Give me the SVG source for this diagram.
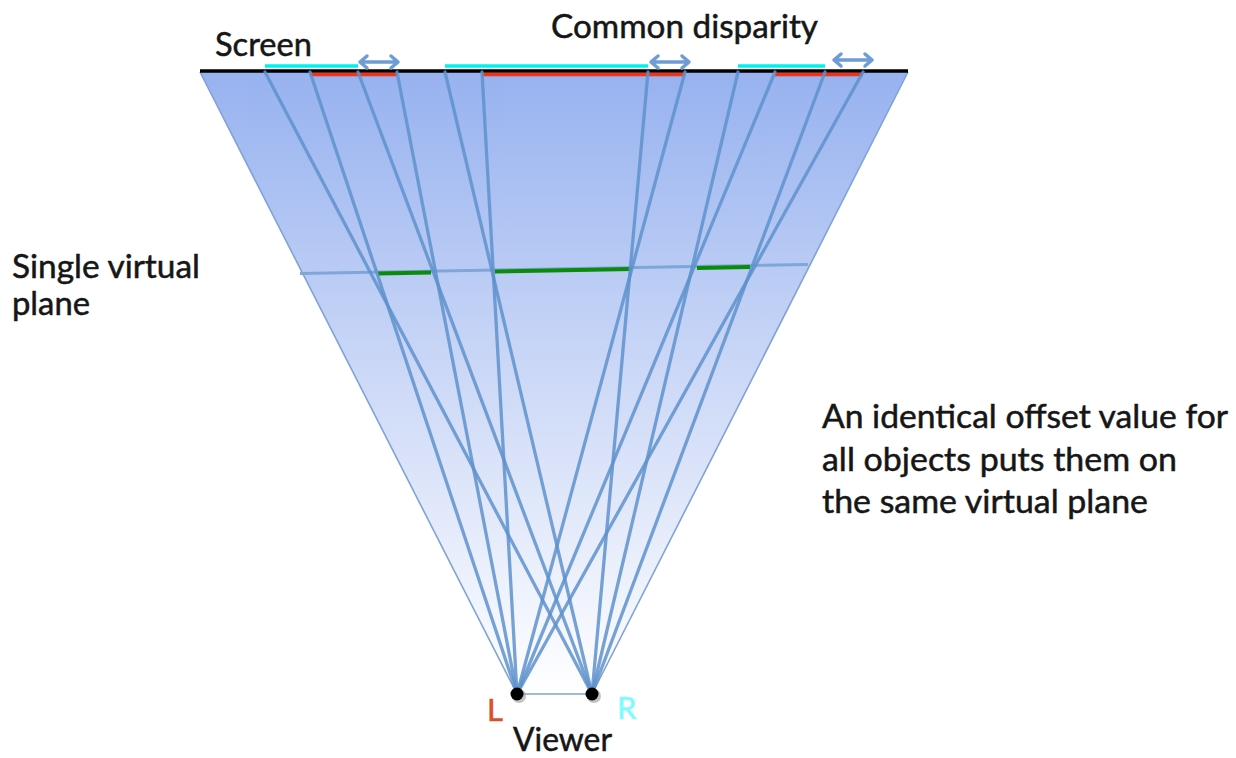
<svg xmlns="http://www.w3.org/2000/svg" width="1236" height="758" viewBox="0 0 1236 758">
  <defs>
    <linearGradient id="frustumFill" x1="0" y1="72" x2="0" y2="694" gradientUnits="userSpaceOnUse">
      <stop offset="0" stop-color="#97B2F0"/>
      <stop offset="0.5" stop-color="#CDD9F7"/>
      <stop offset="1" stop-color="#FFFFFF"/>
    </linearGradient>
    <style>
      .label { font-family: Lato, "Open Sans", "Liberation Sans", sans-serif; font-size: 32px; fill: #161616; stroke: #161616; stroke-width: 0.5; }
      .eye-label { font-family: Lato, "Open Sans", sans-serif; font-size: 31px; stroke-width: 0.6; }
      .ray { stroke: #5E92CC; stroke-width: 3.3; stroke-opacity: 0.85; fill: none; stroke-linecap: round; }
      .edge { stroke: #7FA3D6; stroke-width: 1.6; fill: none; }
      .cyan { stroke: #00F0F0; stroke-width: 3.5; }
      .red { stroke: #F0341A; stroke-width: 3.5; }
      .green { stroke: #0A8C0A; stroke-width: 4; }
      .disp { stroke: #6D9DD4; stroke-width: 3.5; fill: none; stroke-linecap: round; stroke-linejoin: round; }
    </style>
  </defs>

  <!-- viewing frustum from the two eyes up to the screen -->
  <g id="frustum">
    <polygon points="200,72 908,72 592,694 517,694" fill="url(#frustumFill)"/>
    <line class="edge" x1="200" y1="72" x2="517" y2="694"/>
    <line class="edge" x1="908" y1="72" x2="592" y2="694"/>
    <line class="edge" x1="517" y1="694" x2="592" y2="694"/>
  </g>

  <!-- screen with left (red) and right (cyan) images -->
  <g id="screen">
    <line x1="265" y1="66" x2="358" y2="66" class="cyan"/>
    <line x1="445" y1="66" x2="648" y2="66" class="cyan"/>
    <line x1="738" y1="66" x2="825" y2="66" class="cyan"/>
    <line x1="200" y1="71" x2="908" y2="71" stroke="#000" stroke-width="3.5"/>
    <line x1="310" y1="74.5" x2="397" y2="74.5" class="red"/>
    <line x1="482" y1="74.5" x2="685" y2="74.5" class="red"/>
    <line x1="775" y1="74.5" x2="863" y2="74.5" class="red"/>
  </g>

  <!-- disparity arrows -->
  <g id="disparity-arrows">
    <path class="disp" d="M360,62 H398 M367,56 L360,62 L367,68 M391,56 L398,62 L391,68"/>
    <path class="disp" d="M651,62 H689 M658,56 L651,62 L658,68 M682,56 L689,62 L682,68"/>
    <path class="disp" d="M834,60 H872 M841,54 L834,60 L841,66 M865,54 L872,60 L865,66"/>
  </g>

  <!-- virtual plane -->
  <g id="virtual-plane">
    <line x1="300" y1="273.4" x2="808" y2="264.5" stroke="#7EA6D8" stroke-width="3"/>
    <line class="green" x1="378" y1="273.5" x2="431" y2="272.6"/>
    <line class="green" x1="495" y1="271.5" x2="632" y2="269.1"/>
    <line class="green" x1="697" y1="268" x2="750" y2="267"/>
  </g>

  <!-- sight lines -->
  <g id="connectors">
    <!-- left eye to red image edges -->
    <line class="ray" x1="517" y1="694" x2="310" y2="72"/>
    <line class="ray" x1="517" y1="694" x2="397" y2="72"/>
    <line class="ray" x1="517" y1="694" x2="482" y2="72"/>
    <line class="ray" x1="517" y1="694" x2="685" y2="72"/>
    <line class="ray" x1="517" y1="694" x2="775" y2="72"/>
    <line class="ray" x1="517" y1="694" x2="863" y2="72"/>
    <!-- right eye to cyan image edges -->
    <line class="ray" x1="592" y1="694" x2="265" y2="72"/>
    <line class="ray" x1="592" y1="694" x2="358" y2="72"/>
    <line class="ray" x1="592" y1="694" x2="445" y2="72"/>
    <line class="ray" x1="592" y1="694" x2="648" y2="72"/>
    <line class="ray" x1="592" y1="694" x2="738" y2="72"/>
    <line class="ray" x1="592" y1="694" x2="825" y2="72"/>
  </g>

  <!-- eyes -->
  <g id="eye-left">
    <circle cx="519" cy="696" r="7" fill="#9A9A9A" fill-opacity="0.6"/>
    <circle cx="517" cy="694" r="6.5" fill="#000"/>
    <text class="eye-label" x="487" y="721" fill="#D9502A" stroke="#D9502A">L</text>
  </g>
  <g id="eye-right">
    <circle cx="594" cy="696" r="7" fill="#9A9A9A" fill-opacity="0.6"/>
    <circle cx="592" cy="694" r="6.5" fill="#000"/>
    <text class="eye-label" x="617" y="719" fill="#7FFBFF" stroke="#7FFBFF">R</text>
  </g>

  <!-- labels -->
  <g id="labels">
    <text class="label" x="215" y="56" textLength="97" lengthAdjust="spacingAndGlyphs">Screen</text>
    <text class="label" x="551" y="38" textLength="267" lengthAdjust="spacingAndGlyphs">Common disparity</text>
    <text class="label" x="12" y="278" textLength="188" lengthAdjust="spacingAndGlyphs">Single virtual</text>
    <text class="label" x="12" y="315" textLength="78" lengthAdjust="spacingAndGlyphs">plane</text>
    <text class="label" x="822" y="428" textLength="406" lengthAdjust="spacingAndGlyphs">An identical offset value for</text>
    <text class="label" x="822" y="471" textLength="355" lengthAdjust="spacingAndGlyphs">all objects puts them on</text>
    <text class="label" x="822" y="513" textLength="326" lengthAdjust="spacingAndGlyphs">the same virtual plane</text>
    <text class="label" x="513" y="751" font-size="31" textLength="99" lengthAdjust="spacingAndGlyphs">Viewer</text>
  </g>
</svg>
